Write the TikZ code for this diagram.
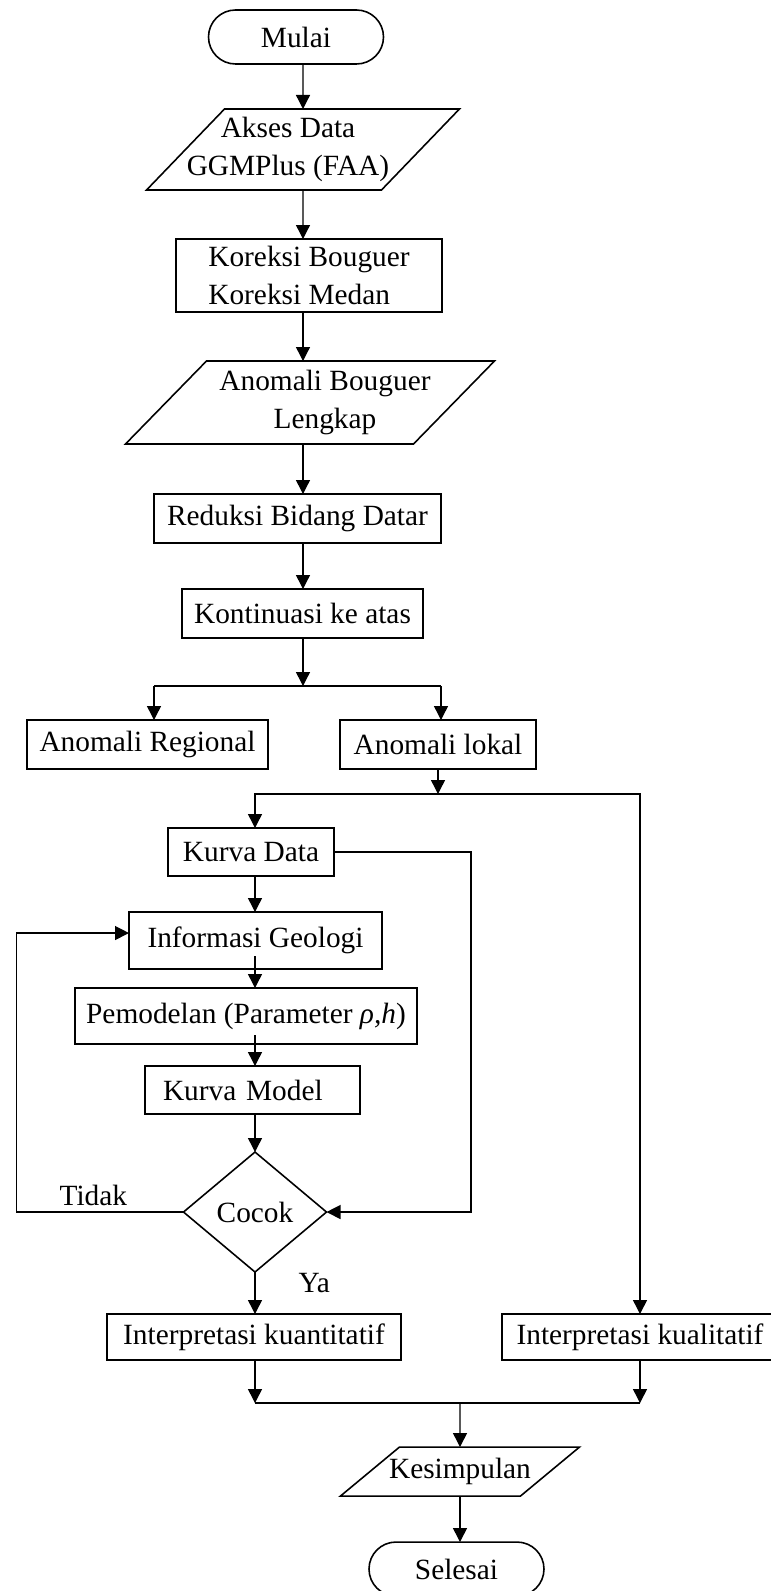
\documentclass[tikz,border=0pt]{standalone}
\usepackage{fontspec}
\setmainfont{Liberation Serif}
\usepackage{tikz}
\usetikzlibrary{arrows.meta,positioning,shapes.geometric,calc}
% text box of a fixed size, lines centred and allowed to stick out
\newcommand{\iotext}[3]{\raisebox{0pt}[\dimexpr#2/2+0.25em\relax][\dimexpr#2/2-0.25em\relax]{\makebox[#1]{#3}}}
\tikzset{
  terminal/.style={draw, line width=0.9pt, rounded corners=5.4mm, outer sep=0pt,
    minimum width=35mm, minimum height=10.8mm, inner sep=0pt},
  io/.style={trapezium, trapezium left angle=46, trapezium right angle=134,
    draw, line width=0.9pt, inner sep=0pt, outer sep=0pt},
  process/.style={draw, line width=0.9pt, align=center, inner sep=2pt, outer sep=0pt},
  decision/.style={diamond, draw, line width=0.9pt, inner sep=0pt, outer sep=0pt,
    minimum width=28.6mm, minimum height=24mm},
  flow/.style={-{Triangle[length=2.8mm, width=2.8mm]}, line width=0.75pt}
}
\begin{document}
\begin{tikzpicture}[font=\fontsize{16.7}{21.5}\selectfont]
        \useasboundingbox (0,0) rectangle (154.2mm,-318.2mm);
        \node[terminal] (mulai) at (59.2mm,-7.4mm) {Mulai};
        \node[io, trapezium left angle=46.1, trapezium right angle=133.9, below=9mm of mulai, xshift=1.4mm] (akses) {\iotext{31.4mm}{16.2mm}{\begin{tabular}{@{}c@{}}Akses Data\\GGMPlus (FAA)\end{tabular}\hspace{6mm}}};
        \node[process, align=left, minimum width=53.2mm, minimum height=14.6mm, below=9.8mm of akses, xshift=1.2mm] (koreksi) {Koreksi Bouguer\\Koreksi Medan};
        \node[io, trapezium left angle=45.7, trapezium right angle=134.3, below=9.8mm of koreksi, xshift=0.2mm] (bouguer) {\iotext{41.4mm}{16.6mm}{\hspace{6mm}\begin{tabular}{@{}c@{}}Anomali Bouguer\\Lengkap\end{tabular}}};
        \node[process, minimum width=57.4mm, minimum height=9.8mm, below=10mm of bouguer, xshift=-2.5mm] (reduksi) {Reduksi Bidang Datar};
        \node[process, minimum width=48.2mm, minimum height=9.8mm, below=9.2mm of reduksi, xshift=1mm] (kontinu) {Kontinuasi ke atas};
        \node[process, minimum width=48.2mm, minimum height=9.8mm, below=16.4mm of kontinu, xshift=-31mm] (regional) {Anomali Regional};
        \node[process, line width=1.2pt, minimum width=39.2mm, minimum height=9.8mm, below=16.4mm of kontinu, xshift=27.1mm] (lokal) {Anomali lokal};
        \node[process, minimum width=33.2mm, minimum height=9.6mm, below=11.8mm of lokal, xshift=-37.4mm] (kurvadata) {Kurva Data};
        \node[process, minimum width=50.6mm, minimum height=11.4mm, below=7.2mm of kurvadata, xshift=0.9mm] (geologi) {Informasi Geologi};
        \node[process, minimum width=68.4mm, minimum height=11.2mm, below=3.8mm of geologi, xshift=-1.9mm] (model) {Pemodelan (Parameter \textit{ρ,h})};
        \node[process, text width=35.8mm, align=left, minimum width=43mm, minimum height=9.6mm, below=4.4mm of model, xshift=1.3mm] (kurvamodel) {Kurva Model};
        \node[decision, below=7.6mm of kurvamodel, xshift=0.5mm] (cocok) {Cocok};
        \node[process, minimum width=58.8mm, minimum height=9.2mm, below=8.4mm of cocok, xshift=-0.2mm] (kuantitatif) {Interpretasi kuantitatif};
        \node[process, minimum width=55.2mm, minimum height=9.2mm, right=20.2mm of kuantitatif] (kualitatif) {Interpretasi kualitatif};
        \node[io, trapezium left angle=39.7, trapezium right angle=140.3, below=17.4mm of kuantitatif, xshift=41.2mm] (kesimpulan) {\iotext{24.2mm}{9.8mm}{\begin{tabular}{@{}c@{}}Kesimpulan\end{tabular}}};
        \node[terminal, below=9.2mm of kesimpulan, xshift=-0.7mm] (selesai) {Selesai};
        \coordinate[below=9.6mm of kontinu] (split);
        \coordinate[below=5mm of lokal] (branch);
        \coordinate[below=8.6mm of kuantitatif] (merge);
        \draw[flow] (mulai.south -| akses) -- (akses);
        \draw[flow] (akses) -- (koreksi.north -| akses);
        \draw[flow] (koreksi.south -| akses) -- (bouguer.north -| akses);
        \draw[flow] (bouguer.south -| akses) -- (reduksi.north -| akses);
        \draw[flow] (reduksi.south -| akses) -- (kontinu.north -| akses);
        \draw[flow] (kontinu.south -| akses) -- (split -| akses);
        \draw[line width=0.75pt] (split -| reduksi.west) -- (split -| reduksi.east);
        \draw[flow] (split -| reduksi.west) -- (regional.north -| reduksi.west);
        \draw[flow] (split -| reduksi.east) -- (lokal.north -| reduksi.east);
        \draw[flow] (lokal) -- (branch);
        \draw[flow] (branch) -| (kurvadata.north -| cocok);
        \draw[flow] (branch) -| (kualitatif);
        \draw[flow] (kurvadata.east) -- ++(27.4mm,0) |- (cocok.east);
        \draw[flow] (kurvadata.south -| cocok) -- (geologi.north -| cocok);
        \draw[flow] ($(geologi.south -| cocok)+(0,2.6mm)$) -- (model.north -| cocok);
        \draw[flow] ($(model.south -| cocok)+(0,1.8mm)$) -- (kurvamodel.north -| cocok);
        \draw[flow] (kurvamodel.south -| cocok) -- (cocok);
        \draw[flow] (cocok.west) -- ++(-33.4mm,0) node[above, pos=0.54]{Tidak} |- ([yshift=1.5mm]geologi.west);
        \draw[flow] (cocok) -- node[pos=0.26, right=7.4mm]{Ya} (cocok.south |- kuantitatif.north);
        \draw[flow] (kuantitatif.south -| cocok) -- (merge -| cocok);
        \draw[flow] (kualitatif) -- (merge -| kualitatif);
        \draw[line width=0.75pt] (merge -| cocok) -- (merge -| kualitatif);
        \draw[flow] (merge -| kesimpulan) -- (kesimpulan);
        \draw[flow] (kesimpulan.south) -- (kesimpulan.south |- selesai.north);
    \end{tikzpicture}
\end{document}
